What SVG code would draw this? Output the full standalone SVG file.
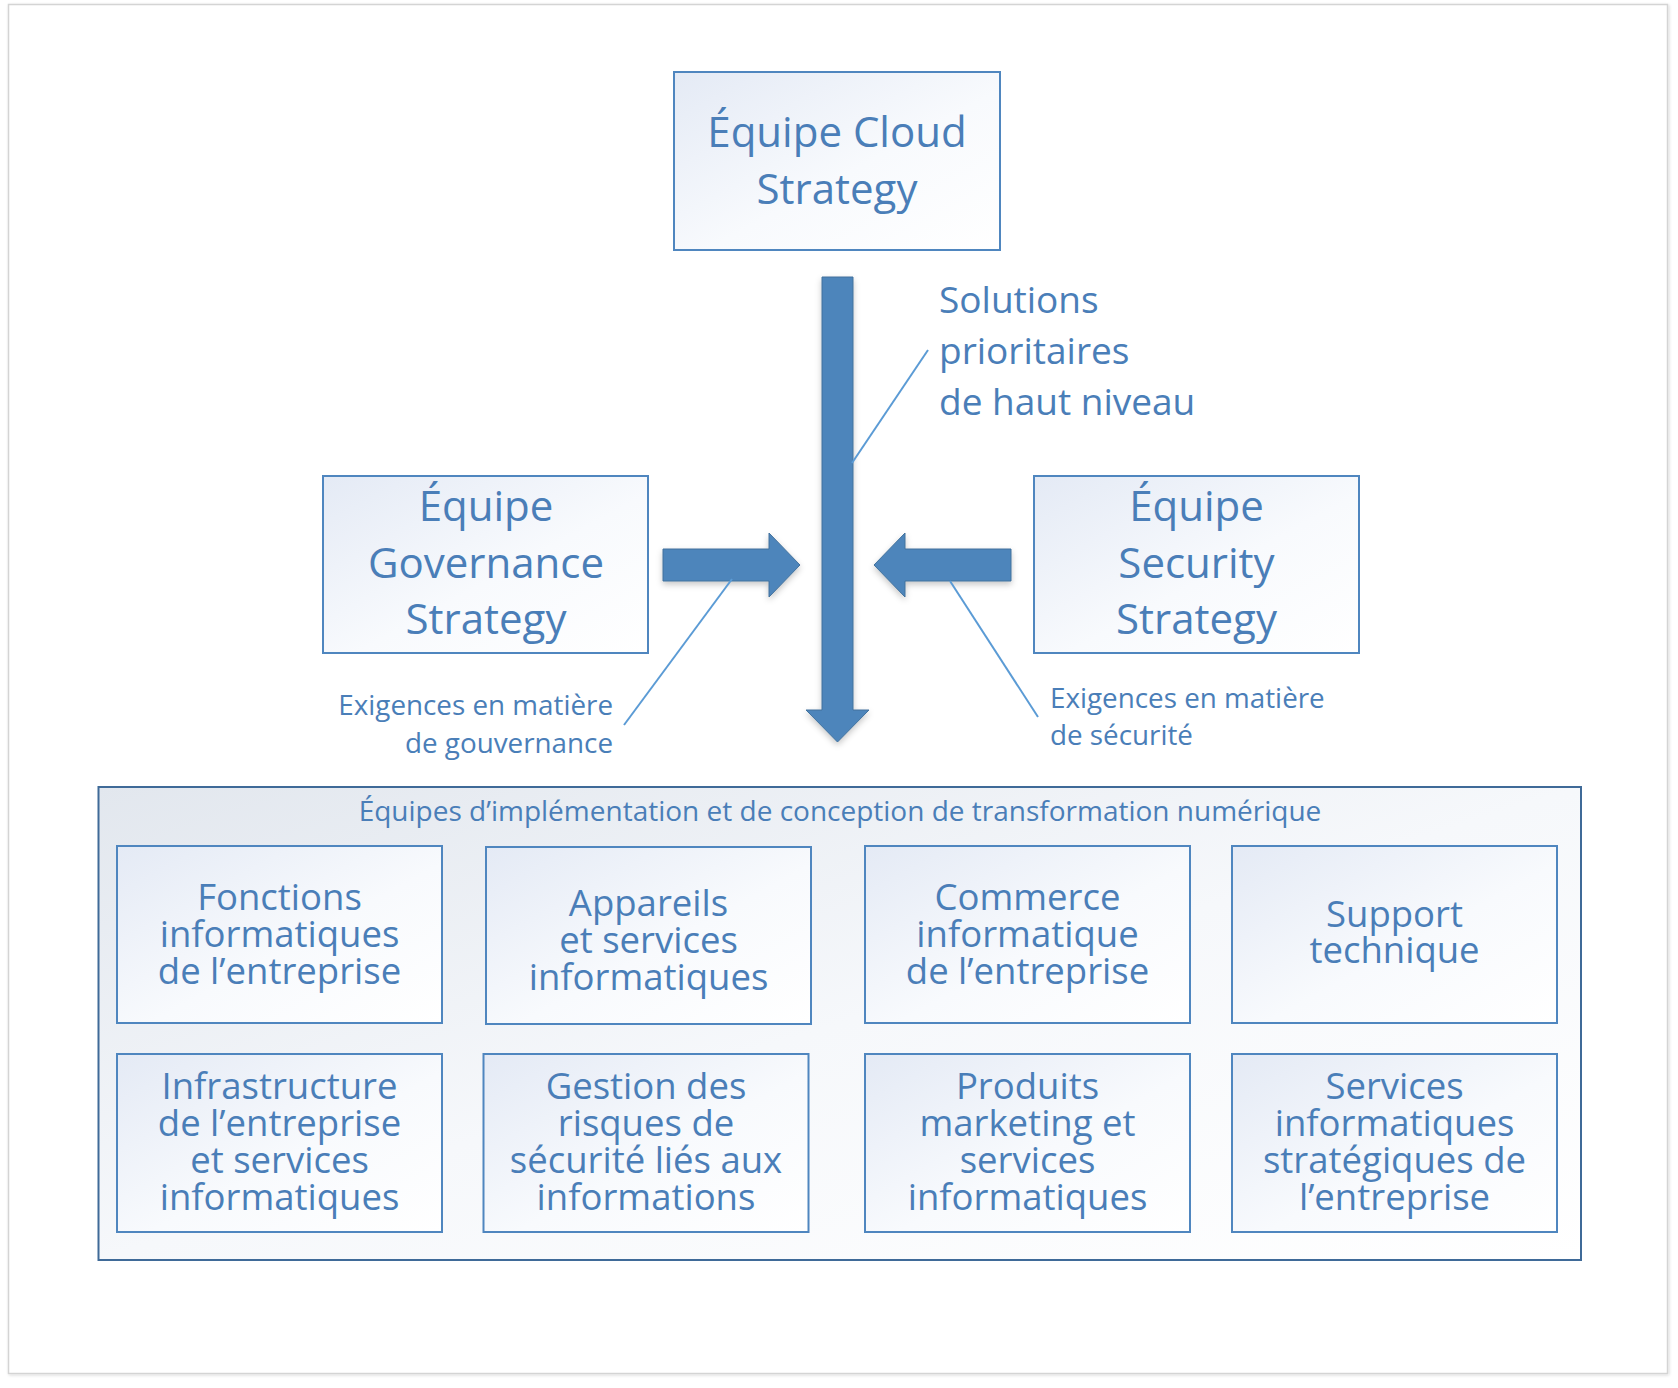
<svg xmlns="http://www.w3.org/2000/svg" width="1678" height="1388" viewBox="0 0 1678 1388">
  <defs>
    <linearGradient id="nodeFill" x1="0" y1="0" x2="1" y2="1">
      <stop offset="0" stop-color="#e4eaf5"/>
      <stop offset="0.55" stop-color="#f8fafd"/>
      <stop offset="1" stop-color="#ffffff"/>
    </linearGradient>
    <linearGradient id="groupFill" x1="0" y1="0" x2="1" y2="1">
      <stop offset="0" stop-color="#e2e7ee"/>
      <stop offset="0.5" stop-color="#f6f8fb"/>
      <stop offset="1" stop-color="#ffffff"/>
    </linearGradient>
    <filter id="shadow" x="-20%" y="-20%" width="140%" height="140%">
      <feDropShadow dx="0" dy="3" stdDeviation="3" flood-color="#000000" flood-opacity="0.22"/>
    </filter>
    <filter id="frameShadow" x="-2%" y="-2%" width="104%" height="104%">
      <feDropShadow dx="1" dy="1" stdDeviation="1.5" flood-color="#000000" flood-opacity="0.15"/>
    </filter>
  </defs>
  <style>
    text { font-family: "Open Sans", "Noto Sans", sans-serif; fill: #4a7eb8; }
    .node { fill: url(#nodeFill); stroke: #4f86bf; stroke-width: 2; }
    .big { font-size: 42px; text-anchor: middle; }
    .mid { font-size: 37px; }
    .inner { font-size: 36.5px; text-anchor: middle; }
    .small { font-size: 27.8px; }
    .arrow { fill: #4e85bb; stroke: #41719c; stroke-width: 1; filter: url(#shadow); }
    .callout { stroke: #5b9bd5; stroke-width: 2; fill: none; }
  </style>

  <rect x="8.5" y="4.5" width="1659" height="1369" fill="#ffffff" stroke="#d4d4d4" stroke-width="1.5" filter="url(#frameShadow)"/>

  <g id="cloud-strategy">
    <rect class="node" x="674" y="72" width="326" height="178"/>
    <text class="big"><tspan x="837" y="147">Équipe Cloud</tspan><tspan x="837" y="204">Strategy</tspan></text>
  </g>

  <g id="governance-strategy">
    <rect class="node" x="323" y="476" width="325" height="177"/>
    <text class="big"><tspan x="486" y="521">Équipe</tspan><tspan x="486" y="578">Governance</tspan><tspan x="486" y="634">Strategy</tspan></text>
  </g>

  <g id="security-strategy">
    <rect class="node" x="1034" y="476" width="325" height="177"/>
    <text class="big"><tspan x="1196.5" y="521">Équipe</tspan><tspan x="1196.5" y="578">Security</tspan><tspan x="1196.5" y="634">Strategy</tspan></text>
  </g>

  <g id="connectors">
    <polygon class="arrow" points="822,277 853,277 853,710 869,710 837.5,742 806,710 822,710"/>
    <polygon class="arrow" points="663,549 769,549 769,533 800,565 769,597 769,581 663,581"/>
    <polygon class="arrow" points="1011,549 905,549 905,533 874,565 905,597 905,581 1011,581"/>
    <line class="callout" x1="928" y1="350" x2="852" y2="463"/>
    <line class="callout" x1="732" y1="579" x2="624" y2="725"/>
    <line class="callout" x1="950" y1="581" x2="1038" y2="717"/>
  </g>

  <g id="label-solutions">
    <text class="mid"><tspan x="939" y="313">Solutions</tspan><tspan x="939" y="364">prioritaires</tspan><tspan x="939" y="415">de haut niveau</tspan></text>
  </g>

  <g id="label-gouvernance">
    <text class="small" text-anchor="end"><tspan x="613" y="715">Exigences en matière</tspan><tspan x="613" y="753">de gouvernance</tspan></text>
  </g>

  <g id="label-securite">
    <text class="small"><tspan x="1050" y="708">Exigences en matière</tspan><tspan x="1050" y="745">de sécurité</tspan></text>
  </g>

  <g id="implementation-teams">
    <rect x="98.5" y="787" width="1482.5" height="473" fill="url(#groupFill)" stroke="#3f6a98" stroke-width="2"/>
    <text x="840" y="821" text-anchor="middle" font-size="28">Équipes d’implémentation et de conception de transformation numérique</text>
  </g>

  <g id="fonctions-informatiques">
    <rect class="node" x="117" y="846" width="325" height="177"/>
    <text class="inner"><tspan x="279.5" y="910">Fonctions</tspan><tspan x="279.5" y="947">informatiques</tspan><tspan x="279.5" y="984">de l’entreprise</tspan></text>
  </g>

  <g id="appareils-services">
    <rect class="node" x="486" y="847" width="325" height="177"/>
    <text class="inner"><tspan x="648.5" y="916">Appareils</tspan><tspan x="648.5" y="953">et services</tspan><tspan x="648.5" y="990">informatiques</tspan></text>
  </g>

  <g id="commerce-informatique">
    <rect class="node" x="865" y="846" width="325" height="177"/>
    <text class="inner"><tspan x="1027.5" y="910">Commerce</tspan><tspan x="1027.5" y="947">informatique</tspan><tspan x="1027.5" y="984">de l’entreprise</tspan></text>
  </g>

  <g id="support-technique">
    <rect class="node" x="1232" y="846" width="325" height="177"/>
    <text class="inner"><tspan x="1394.5" y="927">Support</tspan><tspan x="1394.5" y="963">technique</tspan></text>
  </g>

  <g id="infrastructure">
    <rect class="node" x="117" y="1054" width="325" height="178"/>
    <text class="inner"><tspan x="279.5" y="1099">Infrastructure</tspan><tspan x="279.5" y="1136">de l’entreprise</tspan><tspan x="279.5" y="1173">et services</tspan><tspan x="279.5" y="1210">informatiques</tspan></text>
  </g>

  <g id="gestion-risques">
    <rect class="node" x="483.5" y="1054" width="325" height="178"/>
    <text class="inner"><tspan x="646" y="1099">Gestion des</tspan><tspan x="646" y="1136">risques de</tspan><tspan x="646" y="1173">sécurité liés aux</tspan><tspan x="646" y="1210">informations</tspan></text>
  </g>

  <g id="produits-marketing">
    <rect class="node" x="865" y="1054" width="325" height="178"/>
    <text class="inner"><tspan x="1027.5" y="1099">Produits</tspan><tspan x="1027.5" y="1136">marketing et</tspan><tspan x="1027.5" y="1173">services</tspan><tspan x="1027.5" y="1210">informatiques</tspan></text>
  </g>

  <g id="services-strategiques">
    <rect class="node" x="1232" y="1054" width="325" height="178"/>
    <text class="inner"><tspan x="1394.5" y="1099">Services</tspan><tspan x="1394.5" y="1136">informatiques</tspan><tspan x="1394.5" y="1173">stratégiques de</tspan><tspan x="1394.5" y="1210">l’entreprise</tspan></text>
  </g>
</svg>
